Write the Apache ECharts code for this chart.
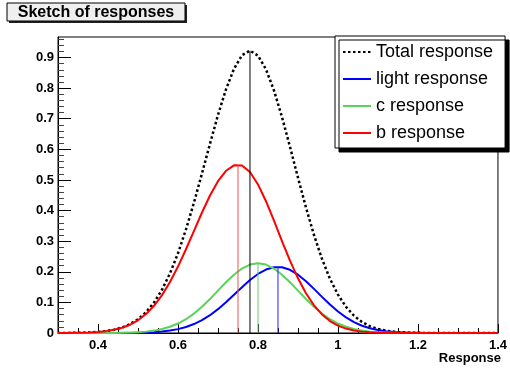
<!DOCTYPE html>
<html>
<head>
<meta charset="utf-8">
<script src="https://cdn.jsdelivr.net/npm/echarts@6/dist/echarts.min.js"></script>
<style>
html, body { margin: 0; padding: 0; background: #fff; }
#chart { width: 510px; height: 373px; }
</style>
</head>
<body>
<div id="chart"></div>
<script>
var responseX = [0.30, 0.32, 0.34, 0.36, 0.38, 0.40, 0.42, 0.44, 0.46, 0.48,
    0.50, 0.52, 0.54, 0.56, 0.58, 0.60, 0.62, 0.64, 0.66, 0.68,
    0.70, 0.72, 0.74, 0.76, 0.78, 0.80, 0.82, 0.84, 0.86, 0.88,
    0.90, 0.92, 0.94, 0.96, 0.98, 1.00, 1.02, 1.04, 1.06, 1.08,
    1.10, 1.12, 1.14, 1.16, 1.18, 1.20, 1.22, 1.24, 1.26, 1.28,
    1.30, 1.32, 1.34, 1.36, 1.38, 1.40];
var totalResp = [0.0001, 0.0003, 0.0005, 0.001, 0.0019, 0.0036, 0.0063, 0.0108, 0.0179, 0.0289,
    0.0449, 0.0678, 0.0995, 0.1413, 0.1949, 0.2606, 0.3383, 0.4262, 0.5212, 0.6184,
    0.7122, 0.7959, 0.8629, 0.9074, 0.9223, 0.9062, 0.8614, 0.7924, 0.7056, 0.6084,
    0.5075, 0.4098, 0.3202, 0.2421, 0.177, 0.1252, 0.0856, 0.0565, 0.0361, 0.0222,
    0.0132, 0.0076, 0.0042, 0.0022, 0.0011, 0.0006, 0.0002, 0.0001, 0, 0,
    0, 0, 0, 0, 0, 0];
var lightResp = [0, 0, 0, 0, 0, 0, 0, 0.0001, 0.0002, 0.0004,
    0.0008, 0.0015, 0.0028, 0.0048, 0.0079, 0.0127, 0.0196, 0.0292, 0.042, 0.0582,
    0.0779, 0.1004, 0.1248, 0.1496, 0.173, 0.1928, 0.2074, 0.215, 0.2149, 0.2065,
    0.1906, 0.1691, 0.1441, 0.118, 0.0928, 0.0701, 0.0509, 0.0355, 0.0238, 0.0153,
    0.0095, 0.0056, 0.0032, 0.0018, 0.0009, 0.0005, 0.0002, 0.0001, 0, 0,
    0, 0, 0, 0, 0, 0];
var cResp = [0, 0, 0, 0, 0, 0.0001, 0.0002, 0.0003, 0.0007, 0.0014,
    0.0025, 0.0045, 0.0078, 0.0128, 0.0203, 0.0309, 0.0451, 0.0634, 0.0856, 0.111,
    0.1383, 0.1656, 0.1904, 0.2105, 0.2235, 0.228, 0.2235, 0.2105, 0.1904, 0.1656,
    0.1383, 0.111, 0.0856, 0.0634, 0.0451, 0.0309, 0.0203, 0.0128, 0.0078, 0.0045,
    0.0025, 0.0014, 0.0007, 0.0003, 0.0002, 0.0001, 0, 0, 0, 0,
    0, 0, 0, 0, 0, 0];
var bResp = [0.0001, 0.0003, 0.0005, 0.001, 0.0019, 0.0035, 0.0061, 0.0104, 0.017, 0.0271,
    0.0416, 0.0618, 0.0889, 0.1237, 0.1667, 0.217, 0.2736, 0.3336, 0.3936, 0.4492,
    0.496, 0.5299, 0.5477, 0.5473, 0.5258, 0.4854, 0.4305, 0.3669, 0.3003, 0.2363,
    0.1786, 0.1297, 0.0905, 0.0607, 0.0391, 0.0242, 0.0144, 0.0082, 0.0045, 0.0024,
    0.0012, 0.0006, 0.0003, 0.0001, 0, 0, 0, 0, 0, 0,
    0, 0, 0, 0, 0, 0];
// peak markers (vertical lines): total, light, c, b
var peakX = [0.78, 0.85, 0.80, 0.75];
var peakY = [0.922, 0.216, 0.228, 0.548];
var seriesNames = ["Total response", "light response", "c response", "b response"];
// ticks
var xTickLabels = [0.4, 0.6, 0.8, 1, 1.2, 1.4];
var xMinorTicks = [0.35, 0.45, 0.5, 0.55, 0.65, 0.7, 0.75, 0.85, 0.9, 0.95, 1.05, 1.1, 1.15, 1.25, 1.3, 1.35];
var yTickLabels = [0, 0.1, 0.2, 0.3, 0.4, 0.5, 0.6, 0.7, 0.8, 0.9];
var yMinorTicks = [];
for (var k = 1; k < 49; k++) {
    if (k % 5 !== 0) yMinorTicks.push(Math.round(k * 2) / 100);
}

var FONT = "'Liberation Sans', Arial, Helvetica, sans-serif";
var colors = ["#000000", "#0000ff", "#5ad25a", "#ff0000"];
var peakColors = ["#000000", "#2222ff", "#66cc66", "#f05050"];

function pairs(ys) {
    return responseX.map(function (x, i) { return [x, ys[i]]; });
}

var myChart = echarts.init(document.getElementById("chart"));

var curves = [totalResp, lightResp, cResp, bResp];
var series = [];
curves.forEach(function (ys, i) {
    series.push({
        name: seriesNames[i],
        type: "line",
        data: pairs(ys),
        smooth: false,
        showSymbol: false,
        symbol: "none",
        animation: false,
        lineStyle: i === 0
            ? { color: colors[i], width: 2.5, type: [2.5, 2.5] }
            : { color: colors[i], width: 2, join: "round" },
        itemStyle: { color: colors[i] }
    });
});
peakX.forEach(function (x, i) {
    series.push({
        type: "line",
        data: [[x, 0], [x, peakY[i]]],
        showSymbol: false,
        symbol: "none",
        animation: false,
        silent: true,
        lineStyle: { color: peakColors[i], width: 1 }
    });
});

var option = {
    animation: false,
    grid: { left: 58, right: 9, top: 37, bottom: 40, show: true, borderColor: "#000", borderWidth: 1, backgroundColor: "#fff" },
    xAxis: [{
        type: "value", min: 0.3, max: 1.4,
        axisLine: { show: true, onZero: false, lineStyle: { color: "#000", width: 1 } },
        axisTick: { show: true, inside: true, length: 9, customValues: xTickLabels, lineStyle: { color: "#000" } },
        axisLabel: {
            customValues: xTickLabels, margin: 6,
            color: "#000", fontFamily: FONT, fontWeight: "bold", fontSize: 13,
            formatter: function (v) { return String(Math.round(v * 10) / 10); }
        },
        splitLine: { show: false }
    }, {
        type: "value", min: 0.3, max: 1.4, position: "bottom",
        axisLine: { show: false },
        axisTick: { show: true, inside: true, length: 5, customValues: xMinorTicks, lineStyle: { color: "#000" } },
        axisLabel: { show: false },
        splitLine: { show: false }
    }],
    yAxis: [{
        type: "value", min: 0, max: 0.967,
        axisLine: { show: true, onZero: false, lineStyle: { color: "#000", width: 1 } },
        axisTick: { show: true, inside: true, length: 13, customValues: yTickLabels, lineStyle: { color: "#000" } },
        axisLabel: {
            customValues: yTickLabels, margin: 4,
            color: "#000", fontFamily: FONT, fontWeight: "bold", fontSize: 13,
            formatter: function (v) { return String(Math.round(v * 10) / 10); }
        },
        splitLine: { show: false }
    }, {
        type: "value", min: 0, max: 0.967, position: "left",
        axisLine: { show: false },
        axisTick: { show: true, inside: true, length: 6, customValues: yMinorTicks, lineStyle: { color: "#444" } },
        axisLabel: { show: false },
        splitLine: { show: false }
    }],
    legend: {
        data: seriesNames,
        orient: "vertical",
        left: 335, top: 36,
        padding: [6, 12, 5, 7],
        itemWidth: 28, itemHeight: 14, itemGap: 7,
        backgroundColor: "#fff",
        borderColor: "#000", borderWidth: 1,
        shadowColor: "#000", shadowBlur: 0, shadowOffsetX: 4, shadowOffsetY: 4,
        selectedMode: false,
        itemStyle: { opacity: 0, borderWidth: 0 },
        textStyle: { color: "#000", fontFamily: FONT, fontSize: 18, lineHeight: 20 }
    },
    graphic: [
        { type: "rect", shape: { x: 9, y: 5, width: 178, height: 18 }, style: { fill: "#222" }, silent: true },
        { type: "rect", shape: { x: 7, y: 3, width: 178, height: 18 }, style: { fill: "#efefef", stroke: "#000", lineWidth: 1 }, silent: true },
        { type: "text", x: 96, y: 12.5, style: { text: "Sketch of responses", fill: "#000", font: "bold 16px " + FONT, textAlign: "center", textVerticalAlign: "middle" }, silent: true },
        { type: "text", x: 501, y: 358, style: { text: "Response", fill: "#000", font: "bold 13px " + FONT, textAlign: "right", textVerticalAlign: "middle" }, silent: true }
    ],
    series: series
};

myChart.setOption(option);
</script>
</body>
</html>
